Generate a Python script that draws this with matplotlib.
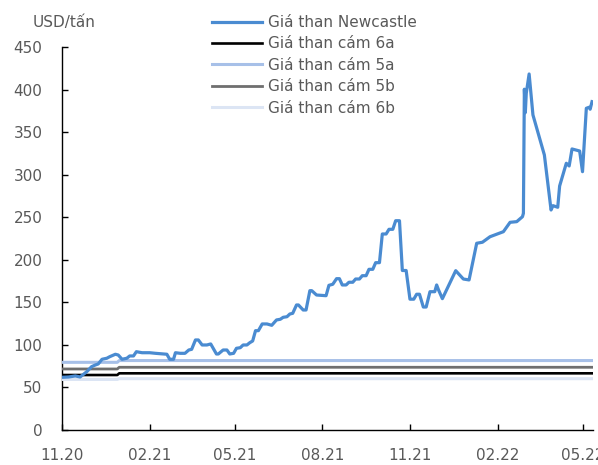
import pandas as pd
import matplotlib
matplotlib.use("Agg")
from matplotlib import pyplot as plt
import matplotlib.dates as mdates

# Giá than Newcastle (USD/tấn)
nc_dates = [
    "2020-11-01", "2020-11-08", "2020-11-15", "2020-11-20", "2020-11-27",
    "2020-12-02", "2020-12-06", "2020-12-09", "2020-12-13", "2020-12-18",
    "2020-12-21", "2020-12-27", "2020-12-30", "2021-01-03", "2021-01-08",
    "2021-01-11", "2021-01-15", "2021-01-18", "2021-01-24", "2021-02-01",
    "2021-02-07", "2021-02-15", "2021-02-19", "2021-02-22", "2021-02-26",
    "2021-02-28", "2021-03-05", "2021-03-10", "2021-03-14", "2021-03-17",
    "2021-03-21", "2021-03-24", "2021-03-28", "2021-04-02", "2021-04-06",
    "2021-04-12", "2021-04-14", "2021-04-19", "2021-04-23", "2021-04-26",
    "2021-04-30", "2021-05-03", "2021-05-07", "2021-05-10", "2021-05-14",
    "2021-05-17", "2021-05-20", "2021-05-23", "2021-05-26", "2021-05-30",
    "2021-06-04", "2021-06-09", "2021-06-14", "2021-06-18", "2021-06-21",
    "2021-06-25", "2021-06-28", "2021-07-01", "2021-07-05", "2021-07-07",
    "2021-07-12", "2021-07-15", "2021-07-19", "2021-07-21", "2021-07-26",
    "2021-08-05", "2021-08-08", "2021-08-12", "2021-08-16", "2021-08-19",
    "2021-08-22", "2021-08-26", "2021-08-29", "2021-09-02", "2021-09-05",
    "2021-09-09", "2021-09-12", "2021-09-16", "2021-09-19", "2021-09-23",
    "2021-09-26", "2021-09-30", "2021-10-03", "2021-10-07", "2021-10-10",
    "2021-10-14", "2021-10-17", "2021-10-21", "2021-10-24", "2021-10-28",
    "2021-11-01", "2021-11-05", "2021-11-08", "2021-11-11", "2021-11-15",
    "2021-11-18", "2021-11-22", "2021-11-27", "2021-11-29", "2021-12-01",
    "2021-12-05", "2021-12-19", "2021-12-27", "2022-01-02", "2022-01-10",
    "2022-01-16", "2022-01-24", "2022-02-07", "2022-02-14", "2022-02-21",
    "2022-02-27", "2022-02-28", "2022-03-01", "2022-03-02", "2022-03-03",
    "2022-03-06", "2022-03-10", "2022-03-22", "2022-03-29", "2022-03-31",
    "2022-04-05", "2022-04-07", "2022-04-14", "2022-04-17", "2022-04-20",
    "2022-04-28", "2022-05-01", "2022-05-05", "2022-05-08", "2022-05-09",
    "2022-05-11",
]
nc_values = [
    61.9, 62.3, 63.5, 62.3, 68.5,
    74.4, 76.4, 77.6, 83.1, 84.3,
    86.1, 89.0, 88.1, 83.1, 84.3,
    87.0, 87.0, 92.0, 90.8, 90.8,
    90.1, 89.3, 89.0, 83.1, 83.1,
    90.8, 90.1, 90.1, 94.0, 94.8,
    105.8, 105.8, 99.9, 99.9, 101.1,
    89.3, 89.3, 94.0, 94.0, 89.3,
    90.1, 96.0, 96.7, 99.9, 99.9,
    102.6, 104.6, 116.7, 116.7, 124.6,
    124.6, 123.0, 129.3, 130.1, 132.4,
    133.1, 136.3, 137.1, 146.9, 146.9,
    141.0, 141.0, 163.7, 163.7, 158.6,
    157.8, 170.0, 171.2, 177.8, 177.8,
    170.4, 170.4, 173.6, 173.6, 177.4,
    177.4, 181.3, 181.3, 188.8, 188.8,
    196.6, 196.6, 230.3, 230.3, 235.8,
    235.8, 245.9, 245.9, 187.4, 187.4,
    153.7, 153.7, 159.5, 159.5, 144.5,
    144.5, 162.5, 162.5, 170.4, 164.5,
    154.3, 187.2, 177.4, 176.3, 219.4,
    220.6, 227.1, 233.0, 244.0, 244.8,
    250.6, 254.6, 400.4, 372.9, 395.7,
    418.3, 370.2, 323.1, 258.5, 263.6,
    261.7, 286.7, 313.4, 310.2, 330.2,
    327.8, 303.5, 378.0, 379.2, 376.9,
    385.8,
]

# Giá than cám trong nước (điều chỉnh cuối 12/2020)
dom_dates = ["2020-11-01", "2020-12-29", "2020-12-31", "2022-05-11"]
cam_6a = [64.6, 64.6, 66.6, 66.6]
cam_5a = [79.5, 79.5, 81.6, 81.6]
cam_5b = [71.7, 71.7, 73.7, 73.7]
cam_6b = [59.4, 59.4, 60.3, 60.3]

x_ticks = ["2020-11-01", "2021-02-01", "2021-05-01", "2021-08-01",
           "2021-11-01", "2022-02-01", "2022-05-01"]
y_ticks = [0, 50, 100, 150, 200, 250, 300, 350, 400, 450]

text_col = "#595959"
plt.rcParams["font.family"] = ["DejaVu Sans"]

fig = plt.figure(figsize=(5.98, 4.65), dpi=100)
ax = fig.add_axes([62 / 598, 1 - 430 / 465, 531 / 598, 383 / 465])

nd = pd.to_datetime(nc_dates)
dd = pd.to_datetime(dom_dates)
ax.plot(nd, nc_values, color="#4A8BD1", lw=2.3, label="Giá than Newcastle", zorder=5)
ax.plot(dd, cam_6a, color="#000000", lw=1.9, label="Giá than cám 6a", zorder=4)
ax.plot(dd, cam_5a, color="#A7C0E8", lw=2.2, label="Giá than cám 5a", zorder=3)
ax.plot(dd, cam_5b, color="#6F6F6F", lw=2.0, label="Giá than cám 5b", zorder=3)
ax.plot(dd, cam_6b, color="#DCE5F4", lw=2.2, label="Giá than cám 6b", zorder=3)

ax.set_xlim(pd.Timestamp("2020-11-01"), pd.Timestamp("2022-05-12"))
ax.set_ylim(0, 450)
ax.set_yticks(y_ticks)
ax.set_xticks(pd.to_datetime(x_ticks))
ax.xaxis.set_major_formatter(mdates.DateFormatter("%m.%y"))

for s in ["top", "right"]:
    ax.spines[s].set_visible(False)
for s in ["left", "bottom"]:
    ax.spines[s].set_linewidth(1.0)
ax.tick_params(axis="both", direction="in", length=4, width=1.0,
               labelsize=11, labelcolor=text_col)
ax.tick_params(axis="x", pad=13)
ax.tick_params(axis="y", pad=14)

fig.text(33 / 598, 1 - 22 / 465, "USD/tấn", fontsize=11, color=text_col, va="center")

leg = fig.legend(loc="upper left", bbox_to_anchor=(212 / 598, 1 - 15 / 465),
                 frameon=False, fontsize=11, handlelength=3.3, handletextpad=0.35,
                 labelspacing=0.42, borderpad=0, borderaxespad=0)
for t in leg.get_texts():
    t.set_color(text_col)

fig.savefig("out.png", dpi=100)
